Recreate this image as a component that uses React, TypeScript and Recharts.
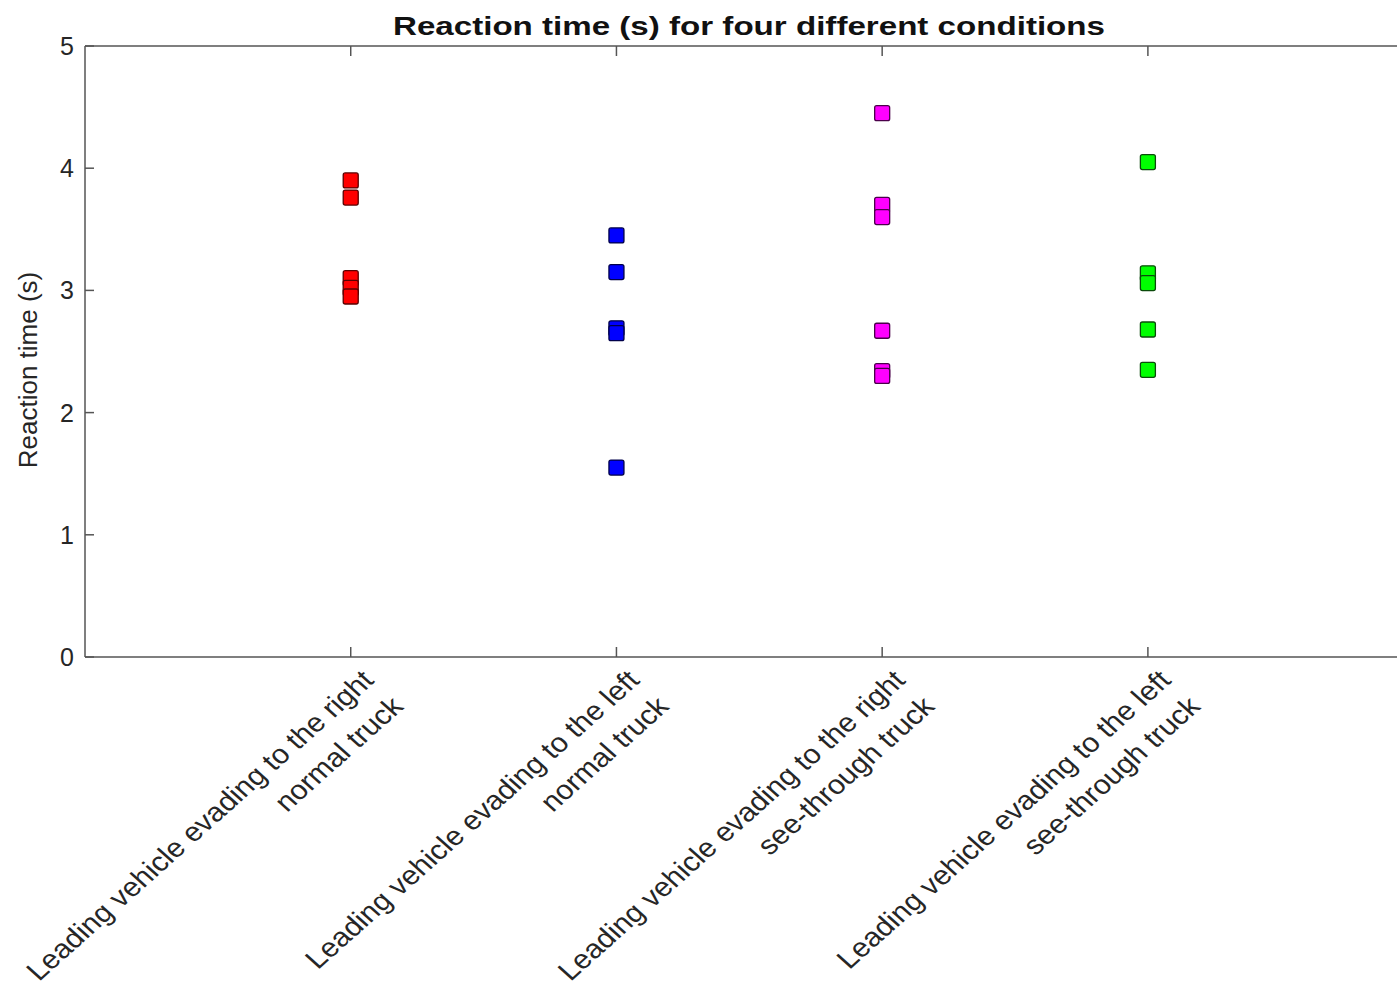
import React from 'react';
import { ScatterChart, Scatter, XAxis, YAxis } from 'recharts';

const LABEL_LINE1 = [
  'Leading vehicle evading to the right',
  'Leading vehicle evading to the left',
  'Leading vehicle evading to the right',
  'Leading vehicle evading to the left',
];
const LABEL_LINE2 = ['normal truck', 'normal truck', 'see-through truck', 'see-through truck'];
const CATEGORY_POS = [1, 2, 3, 4];
const Y_TICKS = [0, 1, 2, 3, 4, 5];

const RED_TIMES = [3.9, 3.76, 3.1, 3.02, 2.95];
const BLUE_TIMES = [3.45, 3.15, 2.69, 2.65, 1.55];
const MAGENTA_TIMES = [4.45, 3.7, 3.6, 2.67, 2.34, 2.3];
const GREEN_TIMES = [4.05, 3.14, 3.06, 2.68, 2.35];

const FONT = '"Liberation Sans", Arial, Helvetica, sans-serif';
const AXIS = '#555';
const TEXT = '#262626';

const toPoints = (vals: number[], pos: number) => vals.map((v) => ({ x: pos, y: v }));

const SERIES = [
  { name: 'right-normal', fill: '#ff0000', stroke: '#5a0000', data: toPoints(RED_TIMES, 1) },
  { name: 'left-normal', fill: '#0000ff', stroke: '#00004a', data: toPoints(BLUE_TIMES, 2) },
  { name: 'right-see', fill: '#ff00ff', stroke: '#4a004a', data: toPoints(MAGENTA_TIMES, 3) },
  { name: 'left-see', fill: '#00ff00', stroke: '#0b4a0b', data: toPoints(GREEN_TIMES, 4) },
];

const squareShape = (fill: string, stroke: string) => (props: any) => (
  <rect x={props.cx - 7.5} y={props.cy - 7.5} width={15} height={15} rx={2}
    fill={fill} stroke={stroke} strokeWidth={1.3} />
);

// category labels: two lines, rotated, right end sitting at the tick
const BottomTick = (props: any) => {
  const { x, y, payload } = props;
  const i = CATEGORY_POS.indexOf(payload.value);
  return (
    <g>
      <line x1={x} x2={x} y1={y} y2={y - 10} stroke={AXIS} strokeWidth={1.5} />
      <g transform={`translate(${x},${y}) scale(1.12,1) rotate(-45)`}>
        <text textAnchor="end" fontSize={27} fill={TEXT} fontFamily={FONT}>
          <tspan x={-2} y={33}>{LABEL_LINE1[i]}</tspan>
          <tspan x={-2} y={70}>{LABEL_LINE2[i]}</tspan>
        </text>
      </g>
    </g>
  );
};

const TopTick = (props: any) => (
  <line x1={props.x} x2={props.x} y1={props.y} y2={props.y + 10} stroke={AXIS} strokeWidth={1.5} />
);

const LeftTick = (props: any) => {
  const { x, y, payload } = props;
  return (
    <g>
      <line x1={x} x2={x + 9} y1={y} y2={y} stroke={AXIS} strokeWidth={1.5} />
      <text x={x - 11} y={y} dy="0.36em" textAnchor="end" fontSize={25} fill={TEXT} fontFamily={FONT}>
        {payload.value}
      </text>
    </g>
  );
};

const RightTick = (props: any) => (
  <line x1={props.x} x2={props.x - 9} y1={props.y} y2={props.y} stroke="#bbb" strokeWidth={1.5} />
);

export default function App() {
  return (
    <div style={{ position: 'fixed', left: 0, top: 0, width: 1397, height: 989, overflow: 'hidden', background: '#fff' }}>
      <ScatterChart width={1420} height={989} margin={{ top: 45, right: 20, bottom: 0, left: 0 }}>
        <XAxis type="number" dataKey="x" domain={[0, 4.945]} ticks={CATEGORY_POS} allowDataOverflow
          height={332} tickSize={0} tickMargin={0} tick={<BottomTick />} interval={0}
          axisLine={{ stroke: AXIS, strokeWidth: 1.5 }} tickLine={false} />
        <XAxis xAxisId="top" orientation="top" type="number" dataKey="x" domain={[0, 4.945]} ticks={CATEGORY_POS} allowDataOverflow
          height={1} tickSize={0} tickMargin={0} tick={<TopTick />} interval={0}
          axisLine={{ stroke: AXIS, strokeWidth: 1.5 }} tickLine={false} />
        <YAxis type="number" dataKey="y" domain={[0, 5]} ticks={Y_TICKS} width={85} interval={0}
          tickSize={0} tickMargin={0} tick={<LeftTick />}
          axisLine={{ stroke: AXIS, strokeWidth: 1.5 }} tickLine={false} />
        <YAxis yAxisId="right" orientation="right" type="number" dataKey="y" domain={[0, 5]} ticks={Y_TICKS} width={1} interval={0}
          tickSize={0} tickMargin={0} tick={<RightTick />}
          axisLine={{ stroke: AXIS, strokeWidth: 1.5 }} tickLine={false} />
        {SERIES.map((s) => (
          <Scatter key={s.name} name={s.name} data={s.data} isAnimationActive={false}
            shape={squareShape(s.fill, s.stroke)} />
        ))}
        <Scatter name="frame" data={[]} xAxisId="top" yAxisId="right" isAnimationActive={false} />
      </ScatterChart>
      <svg width={1397} height={989} style={{ position: 'absolute', left: 0, top: 0, pointerEvents: 'none' }}>
        <text x={393} y={35} textLength={712} lengthAdjust="spacingAndGlyphs" fontSize={26.5}
          fontWeight="bold" fill="#111" fontFamily={FONT}>
          Reaction time (s) for four different conditions
        </text>
        <text transform="translate(37,370) rotate(-90)" textAnchor="middle" fontSize={26}
          fill={TEXT} fontFamily={FONT}>
          Reaction time (s)
        </text>
      </svg>
    </div>
  );
}
